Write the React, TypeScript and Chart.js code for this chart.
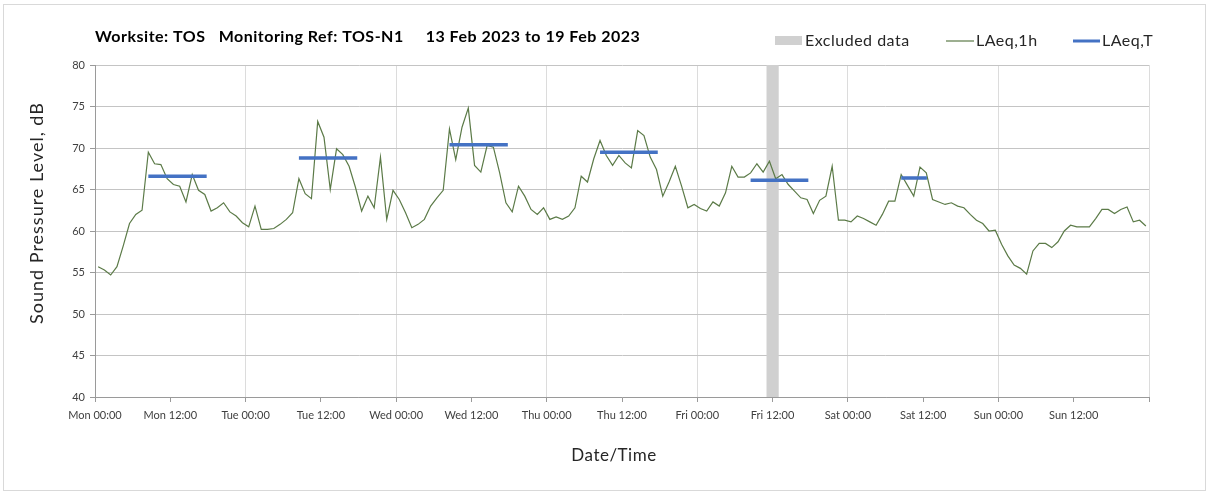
import React, { useEffect, useRef } from 'react';
import { Chart, registerables } from 'chart.js';

Chart.register(...registerables);

const titleText = 'Worksite: TOS   Monitoring Ref: TOS-N1     13 Feb 2023 to 19 Feb 2023';
const xAxisTitle = 'Date/Time';
const yAxisTitle = 'Sound Pressure Level, dB';
const legendLabels = ['Excluded data', 'LAeq,1h', 'LAeq,T'];

const xTickLabels = [
  'Mon 00:00', 'Mon 12:00', 'Tue 00:00', 'Tue 12:00', 'Wed 00:00', 'Wed 12:00', 'Thu 00:00',
  'Thu 12:00', 'Fri 00:00', 'Fri 12:00', 'Sat 00:00', 'Sat 12:00', 'Sun 00:00', 'Sun 12:00', '',
];

// Hourly LAeq,1h values (dB), Mon 00:00 .. Sun 23:00
const laeq1h = [
  55.7, 55.3, 54.7, 55.7, 58.2, 60.9, 62.0, 62.5, 69.5, 68.1, 68.0, 66.3,
  65.6, 65.4, 63.5, 66.8, 64.9, 64.4, 62.4, 62.8, 63.4, 62.3, 61.8, 61.0,
  60.5, 63.0, 60.2, 60.2, 60.3, 60.8, 61.4, 62.2, 66.3, 64.5, 63.9, 73.2,
  71.3, 65.0, 69.9, 69.2, 67.8, 65.3, 62.4, 64.2, 62.8, 68.9, 61.4, 64.9,
  63.8, 62.2, 60.4, 60.8, 61.4, 63.0, 64.0, 64.9, 72.3, 68.6, 72.5, 74.8,
  67.9, 67.1, 70.3, 70.1, 67.0, 63.4, 62.3, 65.4, 64.2, 62.6, 62.0, 62.8,
  61.4, 61.7, 61.4, 61.8, 62.8, 66.6, 65.9, 68.7, 70.9, 69.1, 67.9, 69.1,
  68.2, 67.6, 72.1, 71.5, 68.9, 67.4, 64.2, 65.9, 67.8, 65.4, 62.8, 63.2,
  62.7, 62.4, 63.5, 63.0, 64.6, 67.8, 66.5, 66.5, 67.0, 68.1, 67.1, 68.4,
  66.3, 66.8, 65.6, 64.8, 64.0, 63.8, 62.1, 63.7, 64.2, 67.8, 61.3, 61.3,
  61.1, 61.8, 61.5, 61.1, 60.7, 62.0, 63.6, 63.6, 66.8, 65.5, 64.2, 67.7,
  67.0, 63.8, 63.5, 63.2, 63.4, 63.0, 62.8, 62.0, 61.3, 60.9, 60.0, 60.1,
  58.4, 57.0, 55.9, 55.5, 54.8, 57.6, 58.5, 58.5, 58.0, 58.7, 60.0, 60.7,
  60.5, 60.5, 60.5, 61.5, 62.6, 62.6, 62.1, 62.6, 62.9, 61.1, 61.3, 60.6,
];

// LAeq,T periods (hours from Mon 00:00) and levels
const periodStart = [8.5, 32.5, 56.5, 80.5, 104.5, 128.5];
const periodEnd = [17.8, 41.8, 65.8, 89.7, 113.7, 132.6];
const periodLevel = [66.6, 68.8, 70.4, 69.5, 66.1, 66.4];

// Excluded data window (hours from Mon 00:00)
const excludedStart = [107];
const excludedEnd = [109];

const yMin = 40;
const yMax = 80;
const yStep = 5;
const xMin = 0;
const xMax = 168;
const xStep = 12;

const FONT = 'Lato, "Open Sans", sans-serif';
const GREEN = '#5b7a47';
const BLUE = '#4472c4';
const GREY = '#d0d0d0';

export default function App() {
  const ref = useRef<HTMLCanvasElement>(null);

  useEffect(() => {
    const canvas = ref.current;
    if (!canvas) return;

    const lineData = laeq1h.map((v, i) => ({ x: i + 0.5, y: v }));
    const tData: { x: number; y: number | null }[] = [];
    periodStart.forEach((s, k) => {
      tData.push({ x: s, y: periodLevel[k] });
      tData.push({ x: periodEnd[k], y: periodLevel[k] });
      tData.push({ x: periodEnd[k] + 0.01, y: null });
    });
    const exData: { x: number; y: number | null }[] = [];
    excludedStart.forEach((s, k) => {
      exData.push({ x: s, y: yMax });
      exData.push({ x: excludedEnd[k], y: yMax });
      exData.push({ x: excludedEnd[k] + 0.01, y: null });
    });

    const decor = {
      id: 'decor',
      afterDraw(chart: any) {
        const ctx = chart.ctx;
        const area = chart.chartArea;
        ctx.save();
        // outer frame
        ctx.strokeStyle = '#d9d9d9';
        ctx.lineWidth = 1;
        ctx.strokeRect(3.5, 4.5, 1202, 486);
        // title
        ctx.fillStyle = '#000';
        ctx.font = `bold 16px ${FONT}`;
        ctx.letterSpacing = '0.5px';
        ctx.textBaseline = 'middle';
        ctx.textAlign = 'left';
        ctx.fillText(titleText, 95, 37);
        // legend
        ctx.font = `16px ${FONT}`;
        ctx.letterSpacing = '0.5px';
        ctx.fillStyle = GREY;
        ctx.fillRect(775, 36, 27, 9);
        ctx.fillStyle = '#262626';
        ctx.fillText(legendLabels[0], 805, 41);
        ctx.strokeStyle = GREEN;
        ctx.lineWidth = 1.2;
        ctx.beginPath();
        ctx.moveTo(946, 41);
        ctx.lineTo(974, 41);
        ctx.stroke();
        ctx.fillText(legendLabels[1], 976, 41);
        ctx.strokeStyle = BLUE;
        ctx.lineWidth = 3;
        ctx.beginPath();
        ctx.moveTo(1073, 41);
        ctx.lineTo(1100, 41);
        ctx.stroke();
        ctx.fillText(legendLabels[2], 1102, 41);
        // axis titles
        ctx.font = `17px ${FONT}`;
        ctx.letterSpacing = '0.5px';
        ctx.fillStyle = '#262626';
        ctx.textAlign = 'center';
        ctx.fillText(xAxisTitle, 614, 456);
        ctx.font = `18px ${FONT}`;
        ctx.letterSpacing = '1px';
        ctx.translate(37, 213);
        ctx.rotate(-Math.PI / 2);
        ctx.fillText(yAxisTitle, 0, 0);
        ctx.restore();
      },
    };

    const chart = new Chart(canvas, {
      type: 'line',
      data: {
        datasets: [
          {
            label: legendLabels[0],
            data: exData,
            borderWidth: 0,
            borderColor: GREY,
            backgroundColor: GREY,
            fill: 'start',
            pointRadius: 0,
            spanGaps: false,
            order: 3,
          },
          {
            label: legendLabels[1],
            data: lineData,
            borderColor: GREEN,
            borderWidth: 1.2,
            pointRadius: 0,
            fill: false,
            tension: 0,
            order: 2,
          },
          {
            label: legendLabels[2],
            data: tData,
            borderColor: BLUE,
            borderWidth: 3.5,
            pointRadius: 0,
            fill: false,
            spanGaps: false,
            order: 1,
          },
        ],
      },
      options: {
        responsive: false,
        animation: false,
        events: [],
        layout: { padding: { left: 0, right: 59, top: 65, bottom: 0 } },
        plugins: {
          legend: { display: false },
          title: { display: false },
          tooltip: { enabled: false },
        },
        scales: {
          x: {
            type: 'linear',
            min: xMin,
            max: xMax,
            afterFit: (s: any) => {
              s.height = 95;
            },
            afterBuildTicks: (s: any) => {
              const t = [];
              for (let v = xMin; v <= xMax; v += xStep) t.push({ value: v });
              s.ticks = t;
            },
            ticks: {
              autoSkip: false,
              maxRotation: 0,
              minRotation: 0,
              padding: 7,
              color: '#404040',
              font: { family: FONT, size: 11 },
              callback: (v: any) => xTickLabels[Math.round(Number(v) / xStep)] ?? '',
            },
            grid: {
              color: (c: any) => (c.tick && c.tick.value % 24 === 0 ? '#dcdcdc' : 'rgba(0,0,0,0)'),
              tickColor: '#9a9a9a',
              tickLength: 5,
              lineWidth: 1,
            },
            border: { color: '#9a9a9a', width: 1 },
          },
          y: {
            min: yMin,
            max: yMax,
            afterFit: (s: any) => {
              s.width = 95;
            },
            ticks: {
              stepSize: yStep,
              padding: 5,
              color: '#404040',
              font: { family: FONT, size: 11 },
            },
            grid: {
              color: '#c4c4c4',
              tickColor: '#9a9a9a',
              tickLength: 5,
              lineWidth: 1,
            },
            border: { color: '#9a9a9a', width: 1 },
          },
        },
      },
      plugins: [decor],
    });

    return () => chart.destroy();
  }, []);

  return (
    <div style={{ position: 'fixed', left: 0, top: 0, width: 1208, height: 492, background: '#fff' }}>
      <canvas ref={ref} width={1208} height={492} style={{ display: 'block', width: 1208, height: 492 }} />
    </div>
  );
}
